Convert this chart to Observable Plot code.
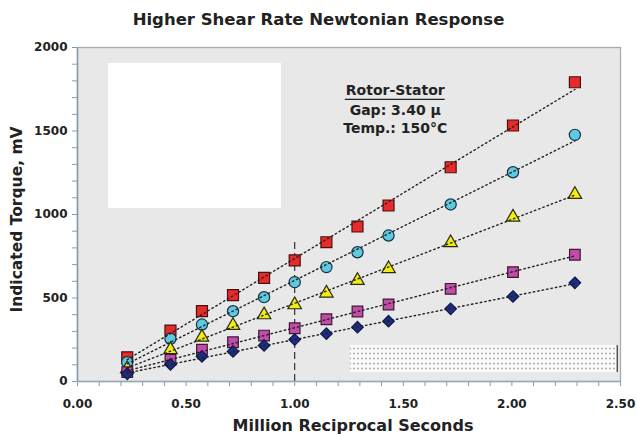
<!DOCTYPE html>
<html>
<head>
<meta charset="utf-8">
<script src="https://cdn.jsdelivr.net/npm/d3@7"></script>
<script src="https://cdn.jsdelivr.net/npm/@observablehq/plot@0.6"></script>
<style>
  html, body { margin: 0; padding: 0; background: #fff; }
  #title { height: 36px; padding-top: 2px; box-sizing: border-box; line-height: 36px; text-align: center; font-family: "DejaVu Sans", Verdana, sans-serif; font-weight: bold; font-size: 16.5px; color: #222; }
  #chart svg { display: block; }
</style>
</head>
<body>
<div id="title">Higher Shear Rate Newtonian Response</div>
<div id="chart"></div>
<script>
// Shear rate (million reciprocal seconds)
const shearRates = [0.229, 0.428, 0.573, 0.716, 0.859, 1.0, 1.146, 1.289, 1.432, 1.718, 2.005, 2.29];
// Indicated torque (mV) for each series
const redSquares     = [145, 305, 421, 517, 621, 725, 834, 928, 1054, 1283, 1533, 1792];
const cyanCircles    = [116, 256, 341, 421, 505, 595, 685, 774, 874, 1060, 1253, 1477];
const yellowTriangles= [76, 190, 265, 335, 399, 459, 529, 605, 675, 831, 984, 1120];
const magentaSquares = [56, 130, 190, 235, 275, 319, 373, 419, 461, 555, 655, 759];
const navyDiamonds   = [46, 102, 150, 180, 216, 251, 286, 325, 361, 435, 509, 591];

const xTicks = [0, 0.5, 1.0, 1.5, 2.0, 2.5];
const yTicks = [0, 500, 1000, 1500, 2000];
const annotationLines = ["Rotor-Stator", "Gap: 3.40 µ", "Temp.: 150°C"];
const annotationY = [1743, 1623, 1515];
// blanked-out regions seen in the picture (data units)
const whiteBox = [{x1: 0.143, x2: 0.939, y1: 1036, y2: 1904}];
const dottedBox = [{x1: 1.256, x2: 2.485, y1: 54, y2: 216}];

const seriesDefs = [
  {name: "A", values: redSquares, symbol: "square", fill: "#e82a2a", stroke: "#4a1010", r: 6.2},
  {name: "B", values: cyanCircles, symbol: "circle", fill: "#5ec9e0", stroke: "#143040", r: 5.6},
  {name: "C", values: yellowTriangles, symbol: "triangle", fill: "#f0ec14", stroke: "#2a2a10", r: 5.0},
  {name: "D", values: magentaSquares, symbol: "square", fill: "#c24ca8", stroke: "#3a1a34", r: 6.0},
  {name: "E", values: navyDiamonds, symbol: "diamond2", fill: "#1e2c80", stroke: "#0e1850", r: 5.2}
];
const rows = seriesDefs.flatMap(s => s.values.map((v, i) => ({series: s.name, x: shearRates[i], y: v})));

const font = "DejaVu Sans, Verdana, sans-serif";
const minorY = d3.range(0, 2001, 100);
const minorX = d3.range(0, 2.501, 0.1);

const plot = Plot.plot({
  width: 637,
  height: 400,
  marginTop: 11,
  marginBottom: 55,
  marginLeft: 77,
  marginRight: 17,
  style: {fontFamily: font, background: "transparent", overflow: "visible"},
  x: {domain: [0, 2.5]},
  y: {domain: [0, 2000]},
  marks: [
    Plot.frame({fill: "url(#hatch)", stroke: "#a4aeb2", strokeWidth: 1.3}),
    Plot.rect(whiteBox, {x1: "x1", x2: "x2", y1: "y1", y2: "y2", fill: "white"}),
    Plot.rect(dottedBox, {x1: "x1", x2: "x2", y1: "y1", y2: "y2", fill: "url(#dots)"}),
    Plot.ruleX(dottedBox, {x: "x2", y1: "y1", y2: "y2", stroke: "#333", strokeWidth: 1.2}),
    Plot.ruleX([1.0], {y1: 0, y2: 844, stroke: "#222", strokeDasharray: "7,4", strokeWidth: 1.1}),
    // axes
    Plot.axisY(minorY, {tickSize: 5, tickFormat: () => "", stroke: "#7f9fae", label: null}),
    Plot.axisY(yTicks, {tickSize: 0, tickPadding: 10, tickFormat: d => d3.format("d")(d), fontSize: 12, fontWeight: "bold", fill: "#222", label: null}),
    Plot.axisX(minorX, {tickSize: 5, tickFormat: () => "", stroke: "#7f9fae", label: null}),
    Plot.axisX(xTicks, {tickSize: 0, tickPadding: 18, tickFormat: d3.format(".2f"), fontSize: 12, fontWeight: "bold", fill: "#222", label: null}),
    Plot.ruleX([0], {stroke: "#7f9fae", strokeWidth: 1.5}),
    Plot.ruleY([0], {stroke: "#9aa8b8", strokeWidth: 1.5}),
    // markers
    ...seriesDefs.map(s => Plot.dot(rows.filter(d => d.series === s.name), {
      x: "x", y: "y", symbol: () => s.symbol, r: s.r, fill: s.fill, stroke: s.stroke, strokeWidth: 1.2
    })),
    // trend lines
    Plot.linearRegressionY(rows, {x: "x", y: "y", z: "series", ci: 0, stroke: "#222", strokeWidth: 1.4, strokeDasharray: "1.5,3"}),
    // annotation
    Plot.text(annotationLines, {x: () => 1.463, y: (d, i) => annotationY[i], text: d => d, fontSize: 14, fontWeight: "bold", fill: "#222"}),
    Plot.ruleY([1689], {x1: 1.233, x2: 1.693, stroke: "#222", strokeWidth: 1.2}),
    // axis labels
    Plot.text(["Indicated Torque, mV"], {frameAnchor: "left", textAnchor: "middle", dx: -60, dy: 5, rotate: -90, text: d => d, fontSize: 15.5, fontWeight: "bold", fill: "#222"}),
    Plot.text(["Million Reciprocal Seconds"], {frameAnchor: "bottom", dx: 4, dy: 49, text: d => d, fontSize: 16, fontWeight: "bold", fill: "#222"})
  ]
});

const svg = d3.select(plot);
const defs = svg.insert("defs", ":first-child");
const hatch = defs.append("pattern").attr("id", "hatch").attr("patternUnits", "userSpaceOnUse").attr("width", 2).attr("height", 4);
hatch.append("rect").attr("width", 2).attr("height", 4).attr("fill", "#f7f7f7");
hatch.append("rect").attr("width", 1).attr("height", 4).attr("fill", "#d9d9d9");
const dots = defs.append("pattern").attr("id", "dots").attr("patternUnits", "userSpaceOnUse").attr("width", 4).attr("height", 5);
dots.append("rect").attr("width", 4).attr("height", 5).attr("fill", "#fafafa");
dots.append("circle").attr("cx", 2).attr("cy", 2.5).attr("r", 1.1).attr("fill", "#b4b4b4");

document.getElementById("chart").appendChild(plot);
</script>
</body>
</html>
